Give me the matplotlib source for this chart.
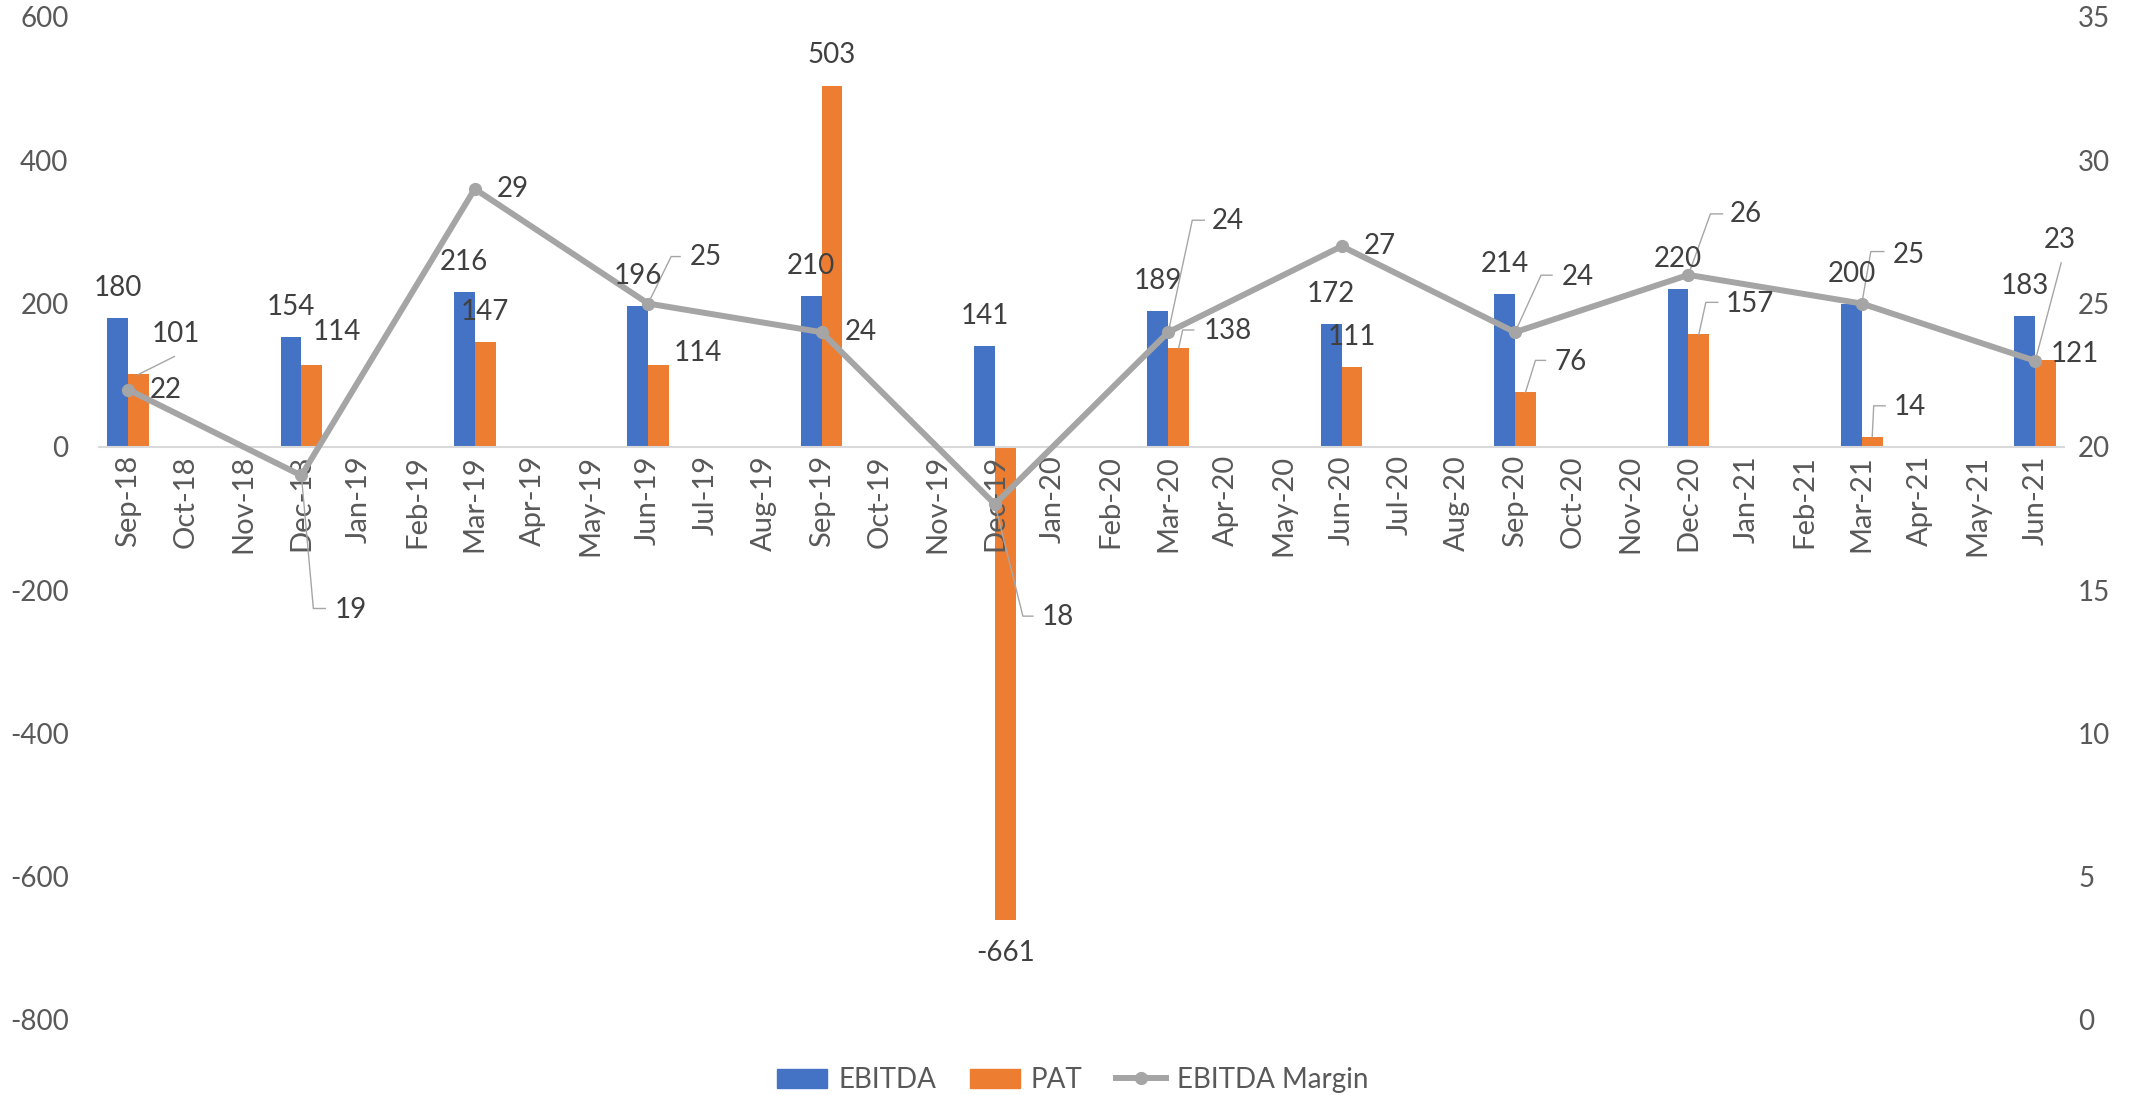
import numpy as np
import matplotlib
matplotlib.use("Agg")
import matplotlib.pyplot as plt
from matplotlib.patches import Patch
from matplotlib.lines import Line2D

# month axis (categories), quarterly values
months = ["Sep-18", "Oct-18", "Nov-18", "Dec-18", "Jan-19", "Feb-19", "Mar-19", "Apr-19",
          "May-19", "Jun-19", "Jul-19", "Aug-19", "Sep-19", "Oct-19", "Nov-19", "Dec-19",
          "Jan-20", "Feb-20", "Mar-20", "Apr-20", "May-20", "Jun-20", "Jul-20", "Aug-20",
          "Sep-20", "Oct-20", "Nov-20", "Dec-20", "Jan-21", "Feb-21", "Mar-21", "Apr-21",
          "May-21", "Jun-21"]
quarters = ["Sep-18", "Dec-18", "Mar-19", "Jun-19", "Sep-19", "Dec-19",
            "Mar-20", "Jun-20", "Sep-20", "Dec-20", "Mar-21", "Jun-21"]
ebitda = [180, 154, 216, 196, 210, 141, 189, 172, 214, 220, 200, 183]
pat = [101, 114, 147, 114, 503, -661, 138, 111, 76, 157, 14, 121]
margin = [22, 19, 29, 25, 24, 18, 24, 27, 24, 26, 25, 23]

plt.rcParams["font.family"] = ["Lato", "DejaVu Sans"]
plt.rcParams["axes.unicode_minus"] = False

BLUE = "#4472C4"
ORANGE = "#ED7D31"
GREY = "#A5A5A5"
LABEL_C = "#404040"
TICK_C = "#595959"
PX = 0.72  # pixels -> points at dpi 100

fig = plt.figure(figsize=(21.31, 10.95), dpi=100)
ax = fig.add_axes([0.0465, 0.0685, 0.9221, 0.916])
ax2 = ax.twinx()

xq = np.array([months.index(q) for q in quarters])
bw = 0.36
ax.bar(xq - bw / 2, ebitda, width=bw, color=BLUE, zorder=2)
ax.bar(xq + bw / 2, pat, width=bw, color=ORANGE, zorder=2)
ax.set_axisbelow(False)  # month labels sit on top of the bars
ax2.plot(xq, margin, color=GREY, lw=4.3, marker="o", markersize=8.5, zorder=3)

ax.set_xlim(-0.5, len(months) - 0.5)
ax.set_ylim(-800, 600)
ax.set_yticks(np.arange(-800, 601, 200))
ax2.set_ylim(0, 35)
ax2.set_yticks(np.arange(0, 36, 5))
ax.set_xticks(np.arange(len(months)))
ax.set_xticklabels(months)

for a in (ax, ax2):
    for s in a.spines.values():
        s.set_visible(False)
ax.spines["bottom"].set_visible(True)
ax.spines["bottom"].set_position(("data", 0))
ax.spines["bottom"].set_color("#D9D9D9")
ax.spines["bottom"].set_linewidth(1.5)
ax.tick_params(axis="x", length=0, pad=6, labelsize=21, labelcolor=TICK_C,
               labelrotation=90)
ax.tick_params(axis="y", length=0, pad=22, labelsize=20, labelcolor=TICK_C)
ax2.tick_params(axis="y", length=0, pad=10, labelsize=20, labelcolor=TICK_C)

trans_of = {"left": ax.transData, "right": ax2.transData}


def put_label(kind, x, y, text, dx, dy, leader=None):
    # anchor in left-axis data coords for bars, right-axis for the line
    tr = trans_of[kind]
    ax2.annotate(text, xy=(x, y), xycoords=tr,
                 xytext=(dx * PX, dy * PX), textcoords="offset points",
                 ha="center", va="center", fontsize=20, color=LABEL_C, zorder=5)
    if leader:
        base = tr.transform((x, y))
        pts = [base] + [base + np.array(p) for p in leader]
        pts = ax2.transData.inverted().transform(np.array(pts))
        ax2.plot(pts[:, 0], pts[:, 1], color="#A6A6A6", lw=1, zorder=4)


# label placement offsets in pixels (dx, dy up), optional leader vertices
ebitda_pos = [(0, 30)] * len(quarters)
pat_pos = [(37, 40, [(36, 18)]), (25, 33, None), (0, 30, None), (39, 12, None),
           (0, 31, None), (0, -33, None), (49, 17, [(4, 18), (15, 18)]), (0, 30, None),
           (45, 30, [(10, 32), (20, 32)]), (51, 30, [(7, 32), (19, 32)]),
           (38, 30, [(1.5, 31), (13, 31)]), (29, 6, None)]
margin_pos = [(38, 0, None), (49, -135, [(12, -133), (24, -133)]), (38, 0, None),
              (58, 47, [(23, 47), (32, 47)]), (39, 0, None),
              (63, -113, [(28, -112), (38, -112)]), (60, 111, [(24, 112), (36, 112)]),
              (38, 0, None), (63, 55, [(26, 57), (37, 57)]), (57, 61, [(22, 61), (34, 61)]),
              (47, 49, [(9, 52), (22, 52)]), (25, 121, [(26, 98)])]

fig.canvas.draw()
for i, x in enumerate(xq):
    dx, dy = ebitda_pos[i]
    put_label("left", x - bw / 2, ebitda[i], str(ebitda[i]), dx, dy)
    dx, dy, ld = pat_pos[i]
    put_label("left", x + bw / 2, pat[i], str(pat[i]), dx, dy, ld)
for i, x in enumerate(xq):
    dx, dy, ld = margin_pos[i]
    put_label("right", x, margin[i], str(margin[i]), dx, dy, ld)

handles = [Patch(color=BLUE, label="EBITDA"), Patch(color=ORANGE, label="PAT"),
           Line2D([], [], color=GREY, lw=4.3, marker="o", markersize=8.5, label="EBITDA Margin")]
fig.legend(handles=handles, loc="center", bbox_to_anchor=(0.5035, 0.0137), ncol=3,
           frameon=False, fontsize=20, labelcolor=TICK_C, handlelength=1.8,
           handleheight=0.65, handletextpad=0.4, columnspacing=1.2)

fig.savefig("out.png", dpi=100)
